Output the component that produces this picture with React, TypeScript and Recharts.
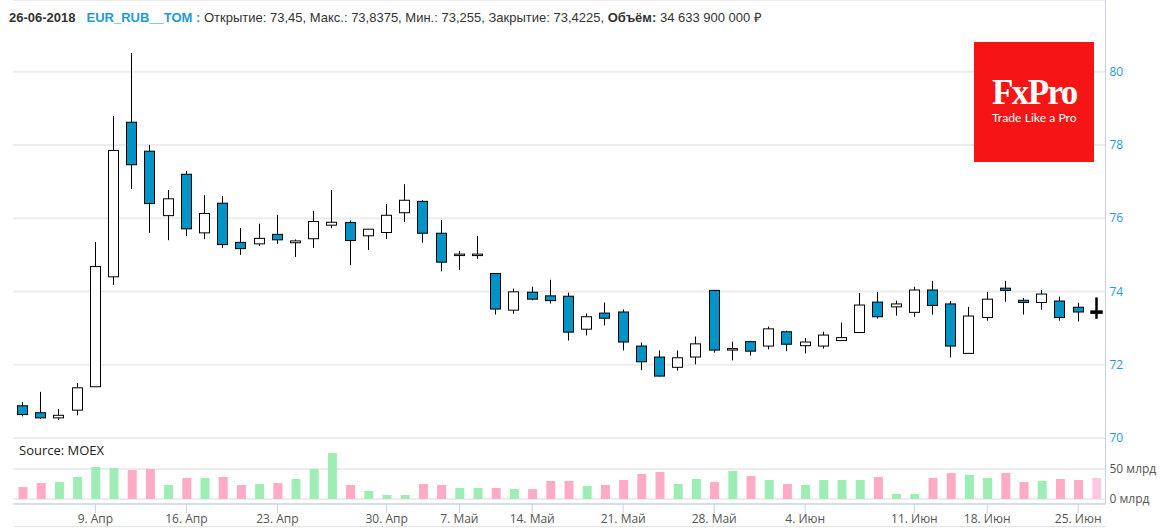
import { Bar, CartesianGrid, Cell, ComposedChart, XAxis, YAxis } from "recharts";

const dates = [
  "3. Апр", "4. Апр", "5. Апр", "6. Апр", "9. Апр", "10. Апр", "11. Апр", "12. Апр", "13. Апр", "16. Апр",
  "17. Апр", "18. Апр", "19. Апр", "20. Апр", "23. Апр", "24. Апр", "25. Апр", "26. Апр", "27. Апр", "28. Апр",
  "30. Апр", "2. Май", "3. Май", "4. Май", "7. Май", "8. Май", "10. Май", "11. Май", "14. Май", "15. Май",
  "16. Май", "17. Май", "18. Май", "21. Май", "22. Май", "23. Май", "24. Май", "25. Май", "28. Май", "29. Май",
  "30. Май", "31. Май", "1. Июн", "4. Июн", "5. Июн", "6. Июн", "7. Июн", "8. Июн", "9. Июн", "11. Июн",
  "13. Июн", "14. Июн", "15. Июн", "18. Июн", "19. Июн", "20. Июн", "21. Июн", "22. Июн", "25. Июн", "26. Июн",
];
const tickDates = ["9. Апр", "16. Апр", "23. Апр", "30. Апр", "7. Май", "14. Май", "21. Май", "28. Май", "4. Июн", "11. Июн", "18. Июн", "25. Июн"];

const opens = [
  70.88, 70.69, 70.55, 70.76, 71.4, 74.4, 78.62, 77.83, 76.07, 77.2,
  75.6, 76.41, 75.34, 75.3, 75.56, 75.33, 75.44, 75.81, 75.88, 75.52,
  75.61, 76.15, 76.46, 75.59, 74.98, 74.98, 74.49, 73.49, 73.98, 73.88,
  73.87, 72.97, 73.41, 73.44, 72.51, 72.21, 71.93, 72.21, 74.03, 72.4,
  72.63, 72.51, 72.9, 72.52, 72.51, 72.66, 72.88, 73.71, 73.58, 73.43,
  74.04, 73.66, 72.31, 73.29, 74.09, 73.76, 73.7, 73.74, 73.57, 73.45,
];
const closes = [
  70.64, 70.55, 70.62, 71.37, 74.68, 77.85, 77.46, 76.4, 76.53, 75.71,
  76.13, 75.28, 75.17, 75.45, 75.41, 75.38, 75.91, 75.89, 75.39, 75.7,
  76.08, 76.49, 75.59, 74.8, 75.02, 75.02, 73.52, 73.99, 73.79, 73.75,
  72.89, 73.31, 73.27, 72.62, 72.08, 71.69, 72.19, 72.57, 72.4, 72.44,
  72.37, 72.98, 72.56, 72.62, 72.81, 72.74, 73.63, 73.31, 73.66, 74.04,
  73.62, 72.51, 73.33, 73.79, 74.03, 73.7, 73.93, 73.29, 73.44, 73.4225,
];
const highs = [
  70.98, 71.26, 70.79, 71.5, 75.35, 78.79, 80.51, 78.0, 76.77, 77.29,
  76.63, 76.6, 75.73, 75.85, 76.09, 75.42, 76.2, 76.77, 75.94, 75.7,
  76.39, 76.93, 76.49, 75.95, 75.11, 75.52, 74.49, 74.08, 74.13, 74.32,
  73.97, 73.4, 73.7, 73.51, 72.61, 72.39, 72.39, 72.77, 74.04, 72.63,
  72.65, 73.04, 72.93, 72.73, 72.9, 73.15, 73.96, 73.99, 73.75, 74.13,
  74.29, 73.74, 73.58, 73.99, 74.29, 73.82, 74.04, 73.86, 73.69, 73.8375,
];
const lows = [
  70.59, 70.52, 70.49, 70.62, 71.4, 74.18, 76.8, 75.6, 75.4, 75.51,
  75.43, 75.19, 75.0, 75.24, 75.3, 74.94, 75.19, 75.73, 74.72, 75.13,
  75.43, 75.9, 75.33, 74.55, 74.59, 74.89, 73.37, 73.39, 73.76, 73.67,
  72.66, 72.8, 73.07, 72.39, 71.85, 71.68, 71.84, 72.01, 72.33, 72.12,
  72.25, 72.42, 72.37, 72.31, 72.44, 72.66, 72.88, 73.26, 73.34, 73.31,
  73.37, 72.2, 72.3, 73.2, 73.72, 73.37, 73.5, 73.2, 73.18, 73.255,
];
const volumes = [
  20, 26.7, 28.3, 36.7, 53.3, 51.7, 48.3, 50, 23.3, 35,
  35, 36.7, 23.3, 25, 26.7, 33.3, 50, 76.7, 23.3, 13.3,
  6.7, 6.7, 25, 23.3, 18.3, 18.3, 18.3, 16.7, 16.7, 30,
  30, 21.7, 23.3, 31.7, 41.7, 45, 25, 33.3, 28.3, 46.7,
  38.3, 31.7, 25, 23.3, 31.7, 31.7, 31.7, 36.7, 8.3, 8.3,
  35, 43.3, 40, 35, 43.3, 28.3, 30, 33.3, 31.7, 35,
];

const priceTicks = [70, 72, 74, 76, 78, 80];
const volumeTicks = [0, 50];

const candleData = dates.map((date, i) => ({ date, open: opens[i], close: closes[i], high: highs[i], low: lows[i] }));
const volumeData = dates.map((date, i) => ({ date, volume: volumes[i], up: closes[i] > opens[i] }));

const lastDate = dates[dates.length - 1];

const Candle = (props: any) => {
  const { x, y, width, height, payload } = props;
  const perUnit = Math.abs(height) / (payload.high - payload.low);
  const top = Math.min(y, y + height);
  const toY = (v: number) => top + (payload.high - v) * perUnit;
  const bodyTop = toY(Math.max(payload.open, payload.close));
  const bodyBottom = toY(Math.min(payload.open, payload.close));
  const cx = Math.floor(x + width / 2);
  const active = payload.date === lastDate;
  const down = payload.close < payload.open;
  return (
    <g>
      <line x1={cx + 0.5} x2={cx + 0.5} y1={top} y2={top + Math.abs(height)} stroke="#000" strokeWidth={active ? 2.5 : 1} />
      <rect
        x={cx - 4.5}
        y={bodyTop}
        width={10}
        height={bodyBottom - bodyTop}
        fill={active ? "#000" : down ? "#0093c6" : "#fff"}
        stroke="#000"
        strokeWidth={active ? 2.5 : 1}
      />
    </g>
  );
};

const App = () => {
  return (
    <div style={{ position: "absolute", left: 0, top: 0, width: 1160, height: 528, background: "#fff", overflow: "hidden" }}>
      <ComposedChart
        width={1160}
        height={445}
        data={candleData}
        margin={{ top: 0, right: 0, bottom: 7, left: 13.5 }}
        style={{ position: "absolute", left: 0, top: 0 }}
      >
        <CartesianGrid horizontal vertical={false} stroke="#ececec" strokeWidth={2} />
        <XAxis dataKey="date" hide />
        <YAxis
          orientation="right"
          width={54.5}
          type="number"
          domain={[70, 81.957]}
          ticks={priceTicks}
          interval={0}
          tickLine={false}
          tickSize={4}
          axisLine={{ stroke: "#c3d3ea", strokeWidth: 1 }}
          tick={{ fill: "#1f9ad6", fontSize: 12, fontFamily: "Open Sans" }}
          tickMargin={0}
        />
        <Bar dataKey={(d: any) => [d.low, d.high]} barSize={10} shape={Candle} isAnimationActive={false} />
      </ComposedChart>

      <ComposedChart
        width={1160}
        height={90}
        data={volumeData}
        margin={{ top: 0, right: 0, bottom: 0, left: 13.5 }}
        style={{ position: "absolute", left: 0, top: 438 }}
      >
        <CartesianGrid horizontal vertical={false} stroke="#ececec" strokeWidth={2} />
        <XAxis
          dataKey="date"
          ticks={tickDates}
          interval={0}
          height={24}
          axisLine={{ stroke: "#d3deec", strokeWidth: 2 }}
          tickLine={{ stroke: "#c3d3ea" }}
          tickSize={9}
          tickMargin={1}
          tick={{ fill: "#555", fontSize: 12, fontFamily: "Open Sans" }}
        />
        <YAxis
          orientation="right"
          width={54.5}
          type="number"
          domain={[-8.33, 101.67]}
          ticks={volumeTicks}
          interval={0}
          tickFormatter={(v: number) => `${v} млрд`}
          tickLine={false}
          tickSize={4}
          axisLine={{ stroke: "#c3d3ea", strokeWidth: 1 }}
          tick={{ fill: "#555", fontSize: 12, fontFamily: "Open Sans" }}
          tickMargin={0}
        />
        <Bar dataKey="volume" barSize={9} isAnimationActive={false}>
          {volumeData.map((d) => (
            <Cell key={d.date} fill={d.date === lastDate ? "#ffc8e0" : d.up ? "#9eedb5" : "#ffabc6"} />
          ))}
        </Bar>
      </ComposedChart>

      <div style={{ position: "absolute", left: 14, right: 54, top: 526, height: 1, background: "#e4e4e4" }} />

      <div style={{ position: "absolute", left: 9, top: 8, font: "13px 'Liberation Sans'", color: "#333", whiteSpace: "nowrap" }}>
        <b>26-06-2018</b>
        <b style={{ color: "#1f9ad6", marginLeft: 11 }}>EUR_RUB__TOM :</b> Открытие: 73,45, Макс.: 73,8375, Мин.: 73,255, Закрытие: 73,4225, <b>Объём:</b> 34 633 900 000 ₽
      </div>

      <div style={{ position: "absolute", left: 19, top: 441, font: "13px 'Open Sans'", color: "#222" }}>Source: MOEX</div>

      <div style={{ position: "absolute", left: 974, top: 42, width: 120, height: 120, background: "#f51515", color: "#fff" }}>
        <div style={{ position: "absolute", left: 18, top: 36, font: "bold 35px/30px 'Liberation Serif'", letterSpacing: -1.6 }}>FxPro</div>
        <div style={{ position: "absolute", left: 18, top: 68, font: "12.2px/15px Lato", whiteSpace: "nowrap" }}>Trade Like a Pro</div>
      </div>
    </div>
  );
};

export default App;
